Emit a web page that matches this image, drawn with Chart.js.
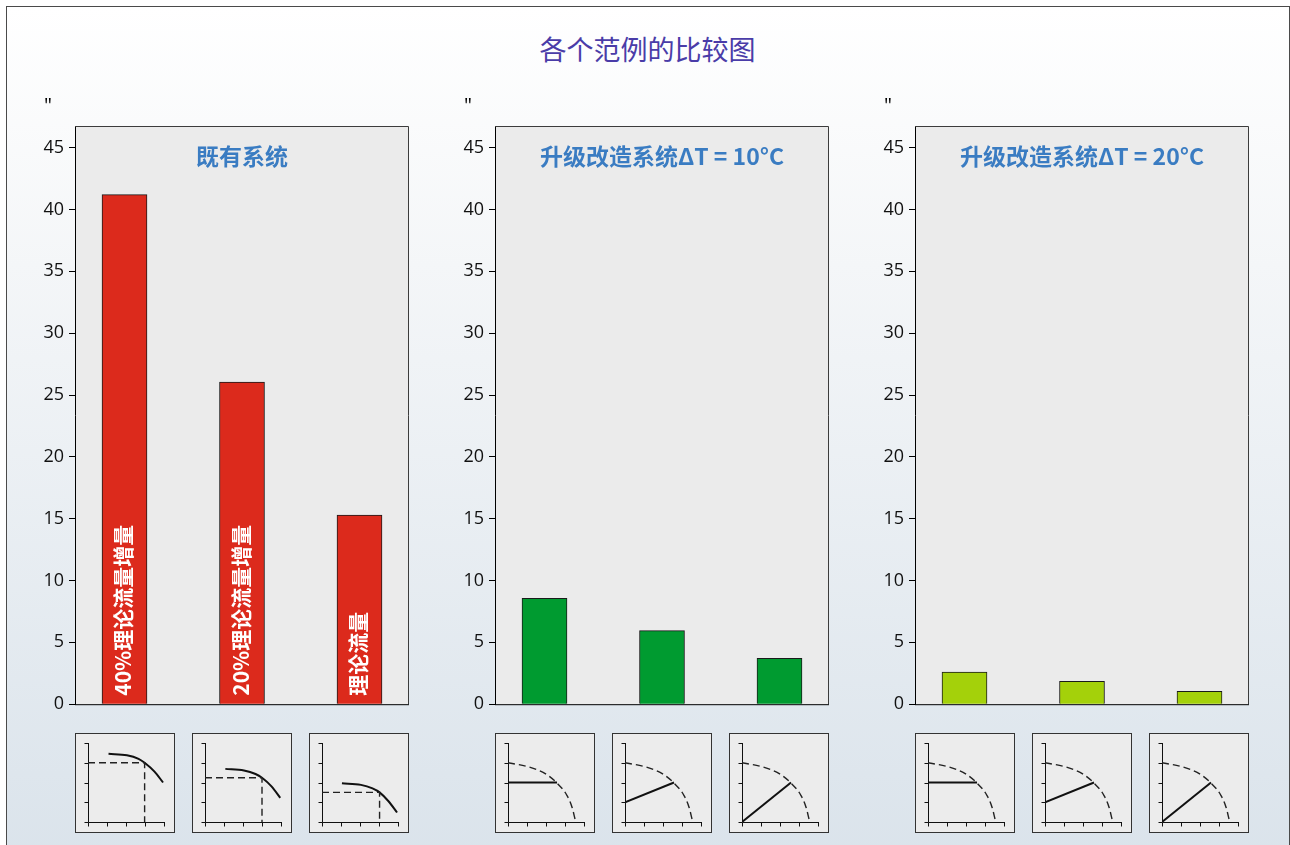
<!DOCTYPE html>
<html lang="zh">
<head>
<meta charset="utf-8">
<title>各个范例的比较图</title>
<script src="https://cdn.jsdelivr.net/npm/chart.js@4.4.1/dist/chart.umd.min.js"></script>
<style>
  html, body { margin: 0; padding: 0; }
  body {
    position: relative;
    width: 1290px;
    height: 845px;
    overflow: hidden;
    background: #fff;
    font-family: "Open Sans", "Noto Sans CJK SC", sans-serif;
  }
  #frame {
    position: absolute;
    left: 6px;
    top: 6px;
    width: 1282px;
    height: 860px;
    border: 1px solid #4a4a4a;
    background: linear-gradient(to bottom, #ffffff 0%, #f4f6f8 30%, #dae3eb 100%);
  }
  #title {
    position: absolute;
    left: 0;
    top: 31px;
    width: 1295px;
    text-align: center;
    font-family: "Noto Sans CJK SC", sans-serif;
    font-size: 27px;
    line-height: 36px;
    color: #4a3ca8;
  }
  canvas.panel, div.icon { position: absolute; }
  div.icon {
    width: 98px;
    height: 98px;
    border: 1px solid #333;
    background: #ececec;
  }
</style>
</head>
<body>
<div id="frame"></div>
<div id="title">各个范例的比较图</div>

<script>
// --- data ---
const panelTitles = ['既有系统', '升级改造系统ΔT = 10°C', '升级改造系统ΔT = 20°C'];
const barSlots = [0, 1, 2];
const existingFlow = [41.2, 26.05, 15.3];
const retrofit10Flow = [8.55, 5.95, 3.7];
const retrofit20Flow = [2.6, 1.85, 1.05];
const barColors = ['#dc2a1c', '#009b30', '#a4d10a'];
const flowLabels = ['40%理论流量增量', '20%理论流量增量', '理论流量'];
const yTicks = [0, 5, 10, 15, 20, 25, 30, 35, 40, 45];
const yMax = 46.75;

// small pump diagrams under the bars
const iconTicks = [0, 1, 2, 3, 4];
// existing system: pump curves and their duty points
const pumpCurves = [
  [[1.08, 3.45], [2.05, 3.38], [2.66, 3.2], [2.98, 3.0], [3.5, 2.55], [3.95, 2.0]],
  [[1.07, 2.69], [2.05, 2.61], [2.66, 2.43], [3.0, 2.24], [3.5, 1.8], [3.96, 1.22]],
  [[1.05, 1.96], [2.05, 1.88], [2.66, 1.7], [3.03, 1.5], [3.5, 1.05], [3.95, 0.48]]
];
const dutyPoints = [[2.98, 3.0], [3.0, 2.24], [3.03, 1.5]];
// retrofit systems: one pump curve, three system lines
const retrofitPumpCurve = [[0, 3.0], [1.08, 2.79], [1.96, 2.45], [2.58, 1.97], [3.1, 1.35], [3.37, 0.75], [3.54, 0.1]];
const systemLineStarts = [[0, 2.0], [0, 1.0], [0, 0]];
const systemLineEnd = [2.58, 2.0];

const pts = arr => arr.map(([x, y]) => ({ x, y }));

const panels = [
  { title: panelTitles[0], values: existingFlow, color: barColors[0], labels: flowLabels, kind: 'existing' },
  { title: panelTitles[1], values: retrofit10Flow, color: barColors[1], labels: null, kind: 'retrofit' },
  { title: panelTitles[2], values: retrofit20Flow, color: barColors[2], labels: null, kind: 'retrofit' }
];

// grey plot box, its top/right edges, title, bar captions and the unit mark
const panelDecor = {
  id: 'panelDecor',
  beforeDraw(chart) {
    const { ctx, chartArea: a } = chart;
    ctx.save();
    ctx.fillStyle = '#ebebeb';
    ctx.fillRect(a.left, a.top, a.right - a.left, a.bottom - a.top);
    ctx.restore();
  },
  afterDraw(chart, args, opts) {
    const { ctx, chartArea: a } = chart;
    ctx.save();
    ctx.lineWidth = 1;
    ctx.strokeStyle = '#3c3c3c';
    ctx.beginPath();
    ctx.moveTo(a.left, a.top + 0.5);
    ctx.lineTo(a.right - 0.5, a.top + 0.5);
    ctx.lineTo(a.right - 0.5, a.bottom);
    ctx.stroke();
    ctx.strokeStyle = '#000';
    ctx.beginPath();
    ctx.moveTo(a.left, a.bottom + 0.5);
    ctx.lineTo(a.right, a.bottom + 0.5);
    ctx.stroke();

    ctx.fillStyle = '#3a7cc2';
    ctx.font = 'bold 23px "Noto Sans CJK SC", sans-serif';
    ctx.textAlign = 'center';
    ctx.textBaseline = 'middle';
    ctx.fillText(opts.title, (a.left + a.right) / 2, a.top + 30);

    ctx.fillStyle = '#000';
    ctx.font = '20px "Open Sans", sans-serif';
    ctx.textAlign = 'left';
    ctx.textBaseline = 'alphabetic';
    ctx.fillText('"', a.left - 31, a.top - 14);

    if (opts.labels) {
      const bars = chart.getDatasetMeta(0).data;
      ctx.fillStyle = '#fff';
      ctx.font = 'bold 21px "Noto Sans CJK SC", sans-serif';
      ctx.textBaseline = 'middle';
      bars.forEach((bar, k) => {
        ctx.save();
        ctx.translate(bar.x - 1, bar.base - 8);
        ctx.rotate(-Math.PI / 2);
        ctx.fillText(opts.labels[k], 0, 0);
        ctx.restore();
      });
    }
    ctx.restore();
  }
};

// axes with little ticks inside each pump diagram
const iconAxes = {
  id: 'iconAxes',
  beforeDatasetsDraw(chart) {
    const { ctx, scales: { x, y } } = chart;
    const x0 = Math.round(x.getPixelForValue(0)) + 0.5;
    const y0 = Math.round(y.getPixelForValue(0)) + 0.5;
    ctx.save();
    ctx.strokeStyle = '#111';
    ctx.lineWidth = 1;
    ctx.beginPath();
    ctx.moveTo(x0, Math.round(y.getPixelForValue(iconTicks[iconTicks.length - 1])));
    ctx.lineTo(x0, y0);
    ctx.lineTo(Math.round(x.getPixelForValue(iconTicks[iconTicks.length - 1])) + 1, y0);
    iconTicks.forEach(t => {
      const ty = Math.round(y.getPixelForValue(t)) + 0.5;
      ctx.moveTo(x0 - 4, ty);
      ctx.lineTo(x0, ty);
      const tx = Math.round(x.getPixelForValue(t)) + 0.5;
      ctx.moveTo(tx, y0);
      ctx.lineTo(tx, y0 + 4);
    });
    ctx.stroke();
    ctx.restore();
  }
};

function addCanvas(cls, left, top, w, h) {
  const c = document.createElement('canvas');
  c.className = cls;
  c.width = w;
  c.height = h;
  c.style.left = left + 'px';
  c.style.top = top + 'px';
  c.style.width = w + 'px';
  c.style.height = h + 'px';
  return c;
}

function iconDatasets(kind, k) {
  const solid = { borderColor: '#111', borderWidth: 2, cubicInterpolationMode: 'monotone', fill: false };
  const dashed = { borderColor: '#222', borderWidth: 1.4, borderDash: [7, 4], fill: false };
  if (kind === 'existing') {
    const [dx, dy] = dutyPoints[k];
    return [
      { ...dashed, data: pts([[0, dy], [dx, dy], [dx, 0]]) },
      { ...solid, data: pts(pumpCurves[k]) }
    ];
  }
  return [
    { ...dashed, cubicInterpolationMode: 'monotone', data: pts(retrofitPumpCurve) },
    { ...solid, data: pts([systemLineStarts[k], systemLineEnd]) }
  ];
}

panels.forEach((p, i) => {
  const plotLeft = 75 + i * 420;
  const canvas = addCanvas('panel', plotLeft - 55, 90, 400, 630);
  document.body.appendChild(canvas);

  const chart = new Chart(canvas, {
    type: 'bar',
    data: {
      datasets: [{
        data: barSlots.map((s, k) => ({ x: s, y: p.values[k] })),
        backgroundColor: p.color,
        borderColor: '#1a1a1a',
        borderWidth: 1,
        barThickness: 45
      }]
    },
    options: {
      responsive: false,
      animation: false,
      devicePixelRatio: 1,
      layout: { padding: { top: 36, right: 11, bottom: 15, left: 0 } },
      scales: {
        x: { type: 'linear', display: false, offset: false, min: -0.4213, max: 2.4213 },
        y: {
          min: 0,
          max: yMax,
          afterFit: s => { s.width = 55; },
          afterBuildTicks: s => { s.ticks = yTicks.map(v => ({ value: v })); },
          grid: { drawOnChartArea: false, drawTicks: true, tickLength: 6, color: '#000' },
          border: { display: true, color: '#000', width: 1 },
          ticks: {
            padding: 5,
            color: '#111',
            font: { family: '"Open Sans", sans-serif', size: 18 }
          }
        }
      },
      plugins: {
        legend: { display: false },
        tooltip: { enabled: false },
        panelDecor: { title: p.title, labels: p.labels }
      }
    },
    plugins: [panelDecor]
  });

  // one pump diagram under each bar
  chart.getDatasetMeta(0).data.forEach((bar, k) => {
    const boxLeft = Math.round(plotLeft - 55 + bar.x) - 50;
    const box = document.createElement('div');
    box.className = 'icon';
    box.style.left = boxLeft + 'px';
    box.style.top = '733px';
    const ic = addCanvas('', 0, 0, 98, 98);
    ic.style.position = 'absolute';
    box.appendChild(ic);
    document.body.appendChild(box);

    new Chart(ic, {
      type: 'line',
      data: { datasets: iconDatasets(p.kind, k) },
      options: {
        responsive: false,
        animation: false,
        devicePixelRatio: 1,
        layout: { padding: { left: 12, right: 10, top: 9, bottom: 10 } },
        scales: {
          x: { type: 'linear', display: false, min: 0, max: 4 },
          y: { type: 'linear', display: false, min: 0, max: 4 }
        },
        elements: { point: { radius: 0 } },
        plugins: { legend: { display: false }, tooltip: { enabled: false } }
      },
      plugins: [iconAxes]
    });
  });
});
</script>
</body>
</html>
